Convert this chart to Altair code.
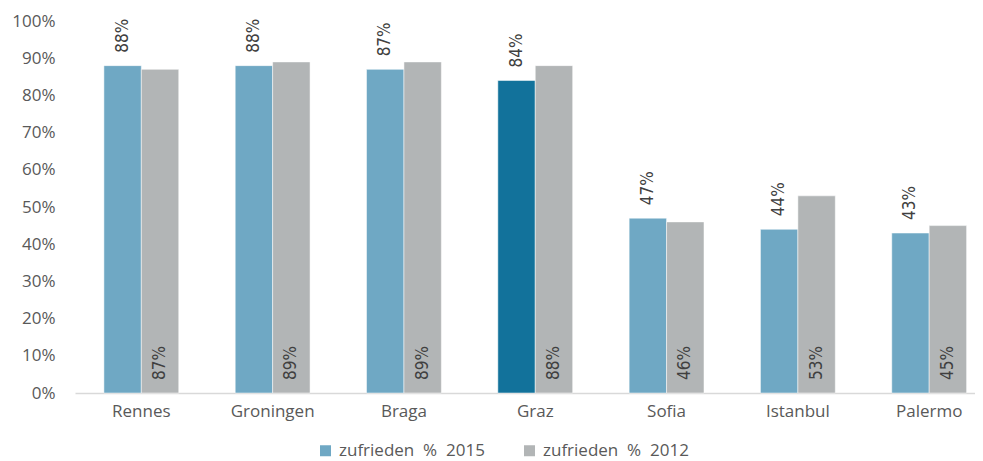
import altair as alt
import pandas as pd

cities = ["Rennes", "Groningen", "Braga", "Graz", "Sofia", "Istanbul", "Palermo"]
v2015 = [0.88, 0.88, 0.87, 0.84, 0.47, 0.44, 0.43]
v2012 = [0.87, 0.89, 0.89, 0.88, 0.46, 0.53, 0.45]
NB = "\u00a0"
s2015 = f"zufrieden{NB}{NB}%{NB}{NB}2015"
s2012 = f"zufrieden{NB}{NB}%{NB}{NB}2012"
highlight = "Graz"
yticks = [i / 10 for i in range(11)]

rows = []
for c, a, b in zip(cities, v2015, v2012):
    rows.append({"city": c, "series": s2015, "value": a, "base": 0})
    rows.append({"city": c, "series": s2012, "value": b, "base": 0})
df = pd.DataFrame(rows)

LBL = "#595959"
AXF = "Open Sans"
xenc = alt.X("city:N", sort=cities, title=None,
             scale=alt.Scale(paddingInner=0.43, paddingOuter=0.142, align=0.775),
             axis=alt.Axis(labelAngle=0, labelFontSize=17, labelColor=LBL, labelFont=AXF,
                           ticks=False, domainColor="#D9D9D9", domainWidth=1.5, labelPadding=10))
xoff = alt.XOffset("series:N", sort=[s2015, s2012], scale=alt.Scale(paddingInner=0, paddingOuter=0))
yscale = alt.Scale(domain=[0, 1])
yaxis = alt.Axis(format="%", values=yticks, labelFontSize=17, labelOverlap=False,
                 labelColor=LBL, labelFont=AXF, grid=False, domain=False,
                 ticks=False, labelPadding=20)

bars = alt.Chart(df).mark_bar(stroke="white", strokeWidth=0.5).encode(
    x=xenc,
    xOffset=xoff,
    y=alt.Y("value:Q", scale=yscale, title=None, axis=yaxis),
    color=alt.condition(
        f"datum.city == '{highlight}' && datum.series == '{s2015}'",
        alt.value("#12729B"),
        alt.Color("series:N", sort=[s2015, s2012],
                  scale=alt.Scale(domain=[s2015, s2012], range=["#6FA8C4", "#B2B5B6"]),
                  legend=alt.Legend(title=None, orient="none", direction="horizontal",
                                    legendX=242, legendY=421, symbolType="square",
                                    symbolSize=121, symbolStrokeWidth=0, labelFontSize=17,
                                    labelFont=AXF, labelColor=LBL, labelOffset=5,
                                    labelLimit=400, columnPadding=36, padding=0)),
    ),
)

font = "Liberation Sans Narrow, Arial Narrow, DejaVu Sans Condensed, sans-serif"
top_labels = alt.Chart(df).transform_filter(f"datum.series == '{s2015}'").mark_text(
    angle=270, align="left", baseline="middle", dx=13, fontSize=17, font=font, color="#404040"
).encode(x=xenc, xOffset=xoff, y=alt.Y("value:Q", scale=yscale, title=None, axis=yaxis),
         text=alt.Text("value:Q", format=".0%"))

bottom_labels = alt.Chart(df).transform_filter(f"datum.series == '{s2012}'").mark_text(
    angle=270, align="left", baseline="middle", dx=13, fontSize=17, font=font, color="#404040"
).encode(x=xenc, xOffset=xoff, y=alt.Y("base:Q", scale=yscale, title=None, axis=yaxis),
         text=alt.Text("value:Q", format=".0%"))

chart = alt.layer(bars, top_labels, bottom_labels).properties(
    width=900, height=372,
    autosize=alt.AutoSizeParams(type="none"),
    padding={"left": 67, "top": 13, "right": 0, "bottom": 68},
).configure_view(stroke=None)

chart.save("out.html", embed_options={"renderer": "svg", "actions": False})
